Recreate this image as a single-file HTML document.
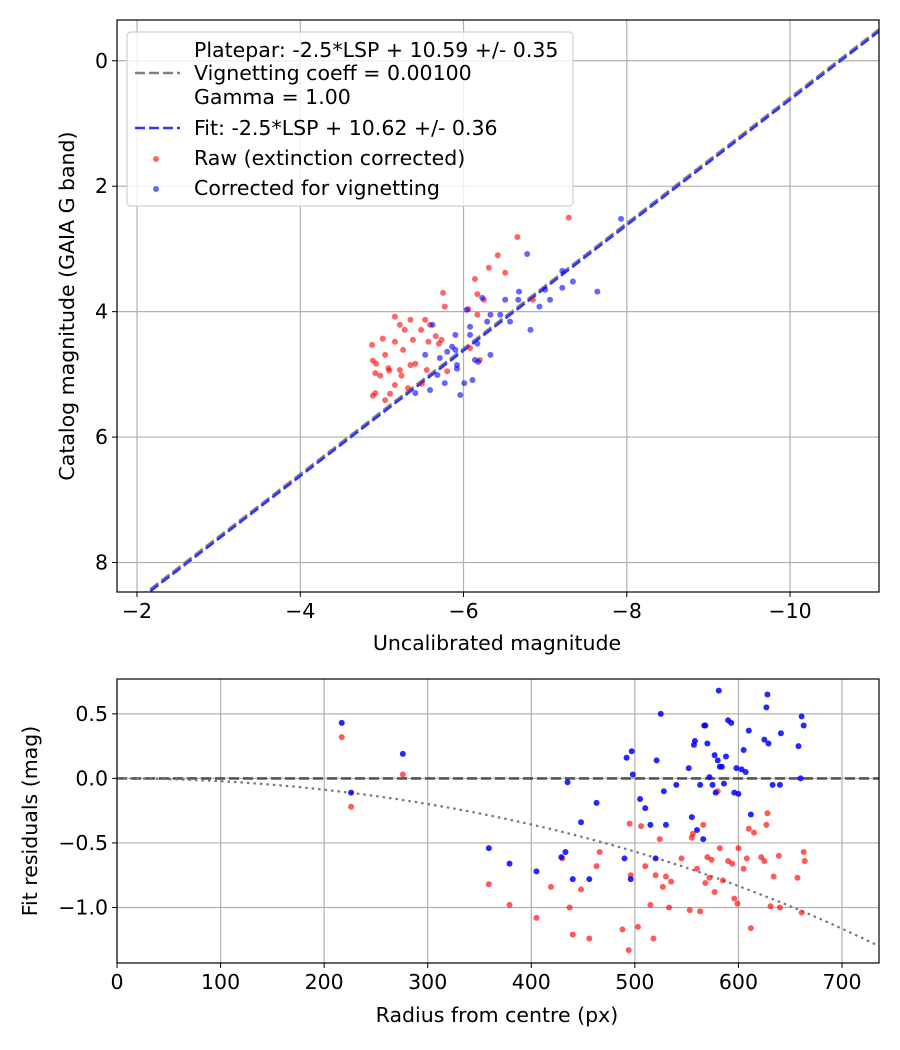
<!DOCTYPE html>
<html><head><meta charset="utf-8"><style>
body{margin:0;background:#fff}
svg{display:block;font-family:"DejaVu Sans","Liberation Sans",sans-serif}
</style></head><body>
<svg id="fig" width="900" height="1050" xmlns="http://www.w3.org/2000/svg"></svg>
<script>
// ---------- top chart data ----------
const topXTicks=[-2,-4,-6,-8,-10];
const topYTicks=[0,2,4,6,8];
const rawX=[-7.29,-6.66,-6.42,-6.31,-6.14,-6.17,-5.77,-5.75,-5.53,-5.48,-5.28,-5.16,-5.01,-5.66,-5.49,-5.41,-4.88,-4.89,-5.09,-4.98,-5.32,-5.24,-4.92,-4.93,-5.26,-5.35,-5.55,-5.10,-4.92,-5.04,-5.16,-5.08,-6.20,-4.89,-5.04,-5.16,-5.22,-5.35,-5.59,-5.73,-6.17,-6.06,-6.25,-6.51,-6.85,-6.08,-5.80,-5.70,-5.57,-5.38,-5.22];
const rawY=[2.50,2.81,3.10,3.30,3.48,3.72,3.92,3.70,4.13,4.29,4.29,4.08,4.43,4.39,5.15,4.83,4.53,4.78,4.94,5.02,5.22,5.02,5.30,4.83,4.61,4.85,4.93,5.31,4.98,4.69,4.48,4.90,4.77,5.34,5.41,5.17,4.93,4.13,4.21,4.45,4.05,3.96,3.81,3.38,3.81,4.58,4.95,4.51,4.48,4.45,4.21];
const corX=[-7.93,-6.78,-7.21,-7.21,-7.34,-7.64,-6.93,-6.68,-6.51,-6.67,-6.23,-6.04,-5.90,-5.80,-5.62,-5.92,-6.01,-5.77,-5.41,-5.68,-5.86,-6.08,-6.33,-6.45,-6.57,-6.82,-5.71,-5.90,-6.17,-6.33,-6.11,-5.53,-5.96,-6.29,-7.00,-7.06,-6.08,-5.59,-5.92,-6.14,-6.18];
const corY=[2.52,3.08,3.35,3.62,3.52,3.68,3.92,3.68,3.81,3.81,3.78,3.97,4.37,4.64,4.21,4.91,5.14,5.14,5.30,5.01,4.56,4.24,4.05,4.05,4.16,4.29,4.74,4.61,4.51,4.69,5.09,4.69,5.33,4.16,3.65,3.81,4.37,5.25,4.85,4.77,4.80];
const platepar=[10.59];
const fitZP=[10.62];
// ---------- bottom chart data ----------
const botXTicks=[0,100,200,300,400,500,600,700];
const botYTicks=[0.5,0.0,-0.5,-1.0];
const botYLabels=["0.5","0.0","\u22120.5","\u22121.0"];
const blueR=[217,226,276,359,379,405,429,433,435,440,448,456,463,490,492,496,497,498,505,510,515,520,521,525,528,530,540,552,555,557,558,560,563,566,567,568,570,572,575,577,578,580,581,582,584,586,588,590,593,596,598,600,603,605,607,610,612,625,627,628,629,633,640,641,658,660,661,663];
const blueRes=[0.43,-0.11,0.19,-0.54,-0.66,-0.72,-0.61,-0.57,-0.03,-0.78,-0.34,-0.78,-0.19,-0.62,0.16,-0.78,0.21,0.03,-0.16,-0.23,-0.36,-0.62,0.14,0.50,-0.10,-0.36,-0.05,0.08,-0.30,0.26,0.29,-0.40,-0.05,-0.47,0.41,0.41,0.27,0.01,-0.05,0.18,-0.11,0.14,0.68,0.09,0.09,-0.04,0.17,0.45,0.43,-0.11,0.08,-0.12,0.07,0.22,0.05,0.37,-0.28,0.30,0.55,0.65,0.27,-0.05,-0.05,0.35,0.25,0.00,0.48,0.41];
const redR=[217,226,276,359,379,405,419,430,437,440,448,456,463,466,488,494,495,496,503,506,510,515,518,520,524,527,530,533,535,545,553,555,556,560,563,566,568,570,572,574,577,580,582,585,590,594,596,599,600,605,608,610,612,615,622,625,627,628,631,634,639,640,657,661,663,664];
const redRes=[0.32,-0.22,0.03,-0.82,-0.98,-1.08,-0.84,-0.62,-1.00,-1.21,-0.86,-1.24,-0.68,-0.57,-1.17,-1.33,-0.35,-0.75,-1.15,-0.37,-0.68,-0.98,-1.24,-0.75,-0.47,-0.84,-0.76,-1.00,-0.80,-0.62,-1.02,-0.46,-0.43,-0.70,-1.03,-0.36,-0.81,-0.61,-0.77,-0.63,-0.88,-0.10,-0.54,-0.79,-0.64,-0.66,-0.93,-0.97,-0.54,-0.70,-0.62,-0.39,-1.16,-0.42,-0.61,-0.64,-0.36,-0.27,-0.99,-0.76,-0.60,-1.00,-0.77,-1.04,-0.57,-0.64];
const vignCoeff=[0.001];

const NS="http://www.w3.org/2000/svg";
const FS=20.5;
const svg=document.getElementById('fig');
function mk(tag,attrs,parent){const e=document.createElementNS(NS,tag);for(const k in attrs)e.setAttribute(k,attrs[k]);(parent||svg).appendChild(e);return e;}
function txt(s,x,y,anchor,size,parent){const t=mk('text',{x:x,y:y,'text-anchor':anchor,'font-size':size||FS,fill:'#000'},parent);t.textContent=s;return t;}
const fmt=v=>(v<0?'\u2212':'')+Math.abs(v);

// ===== Top axes =====
const T={l:117,r:879,t:20,b:592,x0:-1.755,x1:-11.09,y0:-0.65,y1:8.47};
const tx=v=>T.l+(v-T.x0)/(T.x1-T.x0)*(T.r-T.l);
const ty=v=>T.t+(v-T.y0)/(T.y1-T.y0)*(T.b-T.t);
const gTop=mk('g',{});


const clipT=mk('clipPath',{id:'clipT'},gTop);mk('rect',{x:T.l,y:T.t,width:T.r-T.l,height:T.b-T.t},clipT);
topXTicks.forEach(v=>{const x=tx(v);
 const g=mk('line',{x1:x,x2:x,y1:T.t,y2:T.b,stroke:'#b0b0b0','stroke-width':1.2},gTop);
 
 mk('line',{x1:x,x2:x,y1:T.b,y2:T.b+5,stroke:'#000'},gTop);
 const t=txt(fmt(v),x,T.b+26,'middle',FS,gTop);});
topYTicks.forEach(v=>{const y=ty(v);
 const g=mk('line',{x1:T.l,x2:T.r,y1:y,y2:y,stroke:'#b0b0b0','stroke-width':1.2},gTop);
 
 mk('line',{x1:T.l-5,x2:T.l,y1:y,y2:y,stroke:'#000'},gTop);
 const t=txt(fmt(v),T.l-9,y+7,'end',FS,gTop);});
const gc=mk('g',{'clip-path':'url(#clipT)'},gTop);
[[platepar[0],'#808080','platepar-line'],[fitZP[0],'#3333ff','fit-line']].forEach(([zp,c,n])=>{
 const l=mk('line',{x1:tx(T.x0),y1:ty(T.x0+zp),x2:tx(T.x1),y2:ty(T.x1+zp),stroke:c,'stroke-width':2.6,'stroke-dasharray':'10,4'},gc);
 });
rawX.forEach((v,i)=>{const c=mk('circle',{cx:tx(v),cy:ty(rawY[i]),r:3,fill:'#ff0000','fill-opacity':0.6},gc);
 });
corX.forEach((v,i)=>{const c=mk('circle',{cx:tx(v),cy:ty(corY[i]),r:3,fill:'#0000ff','fill-opacity':0.6},gc);
 });
mk('rect',{x:T.l,y:T.t,width:T.r-T.l,height:T.b-T.t,fill:'none',stroke:'#000','stroke-width':1.2},gTop);
let t1=txt('Uncalibrated magnitude',497,650,'middle',FS,gTop);
let t2=txt('Catalog magnitude (GAIA G band)',0,0,'middle',FS,gTop);t2.setAttribute('transform','translate(74,306) rotate(-90)');

// legend
const lg=mk('g',{},gTop);

mk('rect',{x:127,y:32,width:446,height:174,rx:4,fill:'#fff','fill-opacity':0.8,stroke:'#d0d0d0','stroke-width':1.2},lg);
mk('line',{x1:135,x2:180,y1:73,y2:73,stroke:'#808080','stroke-width':2.6,'stroke-dasharray':'10,4'},lg);
txt('Platepar: -2.5*LSP + 10.59 +/- 0.35',194,57,'start',FS,lg);
txt('Vignetting coeff = 0.00100',194,80,'start',FS,lg);
txt('Gamma = 1.00',194,104,'start',FS,lg);
mk('line',{x1:135,x2:180,y1:128,y2:128,stroke:'#3333ff','stroke-width':2.6,'stroke-dasharray':'10,4'},lg);
txt('Fit: -2.5*LSP + 10.62 +/- 0.36',194,135,'start',FS,lg);
mk('circle',{cx:156,cy:159,r:3,fill:'#ff0000','fill-opacity':0.6},lg);
txt('Raw (extinction corrected)',194,165,'start',FS,lg);
mk('circle',{cx:156,cy:189,r:3,fill:'#0000ff','fill-opacity':0.6},lg);
txt('Corrected for vignetting',194,195,'start',FS,lg);

// ===== Bottom axes =====
const B={l:117,r:879,t:679,b:963,x0:0,x1:735.7,y0:0.77,y1:-1.43};
const bx=v=>B.l+(v-B.x0)/(B.x1-B.x0)*(B.r-B.l);
const by=v=>B.t+(v-B.y0)/(B.y1-B.y0)*(B.b-B.t);
const gBot=mk('g',{});


const clipB=mk('clipPath',{id:'clipB'},gBot);mk('rect',{x:B.l,y:B.t,width:B.r-B.l,height:B.b-B.t},clipB);
botXTicks.forEach(v=>{const x=bx(v);
 const g=mk('line',{x1:x,x2:x,y1:B.t,y2:B.b,stroke:'#b0b0b0','stroke-width':1.2},gBot);
 
 mk('line',{x1:x,x2:x,y1:B.b,y2:B.b+5,stroke:'#000'},gBot);
 const t=txt(String(v),x,B.b+26,'middle',FS,gBot);});
botYTicks.forEach((v,i)=>{const y=by(v);
 const g=mk('line',{x1:B.l,x2:B.r,y1:y,y2:y,stroke:'#b0b0b0','stroke-width':1.2},gBot);
 
 mk('line',{x1:B.l-5,x2:B.l,y1:y,y2:y,stroke:'#000'},gBot);
 const t=txt(botYLabels[i],B.l-9,y+7,'end',FS,gBot);});
const gb=mk('g',{'clip-path':'url(#clipB)'},gBot);
const zl=mk('line',{x1:B.l,x2:B.r,y1:by(0),y2:by(0),stroke:'#555','stroke-width':2.6,'stroke-dasharray':'10,4'},gb);

let d='';for(let r=0;r<=736;r+=5){const v=10*Math.log10(Math.cos(vignCoeff[0]*r));d+=(r?'L':'M')+bx(r).toFixed(1)+','+by(v).toFixed(1);}
const vc=mk('path',{d:d,fill:'none',stroke:'#777','stroke-width':2.2,'stroke-dasharray':'2.5,4'},gb);

redR.forEach((v,i)=>{const c=mk('circle',{cx:bx(v),cy:by(redRes[i]),r:3,fill:'#ff0000','fill-opacity':0.65},gb);
 });
blueR.forEach((v,i)=>{const c=mk('circle',{cx:bx(v),cy:by(blueRes[i]),r:3,fill:'#0000ff','fill-opacity':0.85},gb);
 });
mk('rect',{x:B.l,y:B.t,width:B.r-B.l,height:B.b-B.t,fill:'none',stroke:'#000','stroke-width':1.2},gBot);
let t3=txt('Radius from centre (px)',497,1022,'middle',FS,gBot);
let t4=txt('Fit residuals (mag)',0,0,'middle',FS,gBot);t4.setAttribute('transform','translate(37,821) rotate(-90)');

</script>
</body></html>
